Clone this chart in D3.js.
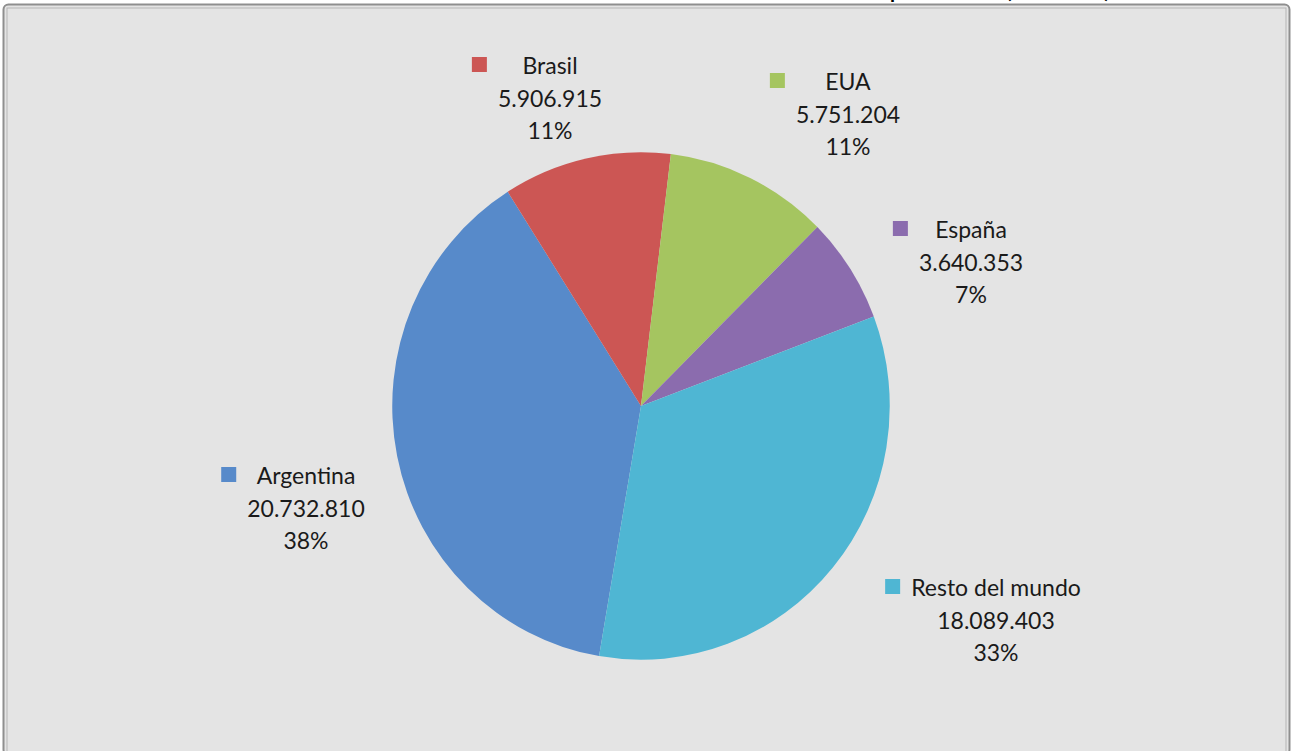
<!DOCTYPE html>
<html>
<head>
<meta charset="utf-8">
<script src="https://cdn.jsdelivr.net/npm/d3@7"></script>
<style>
  html, body { margin: 0; padding: 0; background: #ffffff; }
  svg { display: block; }
</style>
</head>
<body>
<svg id="chart" width="1293" height="751"></svg>
<script>
// ---- data ----
const categories = ["Argentina", "Brasil", "EUA", "España", "Resto del mundo"];
const values = [20732810, 5906915, 5751204, 3640353, 18089403];
const colors = ["#578ACA", "#CC5654", "#A5C560", "#8B6CAE", "#4FB6D3"];
const titleText = "Monto total recibido de cada procedencia (en dólares)";

// ---- layout (label anchors: centre x, first baseline y) ----
const labelAnchors = [[306, 484], [550, 74], [848, 90], [971, 238], [996, 596]];

const W = 1293, H = 751;
const svg = d3.select("#chart");

// frame
svg.append("rect").attr("x", 0).attr("y", 0).attr("width", W).attr("height", H).attr("fill", "#ffffff");
svg.append("rect").attr("x", 3.5).attr("y", 4.5).attr("width", 1286).attr("height", 750)
  .attr("rx", 5).attr("fill", "#E4E4E4").attr("stroke", "#8f8f8f").attr("stroke-width", 2);
svg.append("rect").attr("x", 7).attr("y", 8).attr("width", 1279).attr("height", 745)
  .attr("fill", "none").attr("stroke", "#b5b5b5").attr("stroke-width", 1);

// title (lies above the visible area; only descenders peek in, as in the reference)
const titleFont = "Lato, 'Open Sans', sans-serif";
const probe = svg.append("text").attr("font-family", titleFont)
  .attr("font-weight", "bold").attr("font-size", 24)
  .text(titleText.slice(titleText.lastIndexOf("p")));
const tailW = probe.node().getComputedTextLength();
probe.remove();
const titleSize = 24 * 220 / tailW;
svg.append("text").attr("x", 1110).attr("y", -titleSize * 0.08).attr("text-anchor", "end")
  .attr("font-family", titleFont).attr("font-weight", "bold")
  .attr("font-size", titleSize).attr("fill", "#000").text(titleText);

// pie
const cx = 641, cy = 406, r = 250;
const total = d3.sum(values);
const start = 189.7 * Math.PI / 180;
const pie = d3.pie().sort(null).value(d => d).startAngle(start).endAngle(start + 2 * Math.PI);
const arc = d3.arc().innerRadius(0).outerRadius(r);
const g = svg.append("g").attr("transform", `translate(${cx},${cy}) scale(0.995,1.015)`);
g.selectAll("path").data(pie(values)).enter().append("path")
  .attr("d", arc).attr("fill", (d, i) => colors[i]);

// labels
const loc = d3.formatLocale({ decimal: ",", thousands: ".", grouping: [3], currency: ["", ""] });
const fmt = loc.format(",d");
const font = "Lato, 'Open Sans', sans-serif";
categories.forEach((c, i) => {
  const [lx, ly] = labelAnchors[i];
  const lines = [c, fmt(values[i]), Math.round(values[i] / total * 100) + "%"];
  const lg = svg.append("g");
  let maxW = 0;
  lines.forEach((t, k) => {
    const tx = lg.append("text").attr("x", lx).attr("y", ly + k * 32.5)
      .attr("text-anchor", "middle").attr("font-family", font).attr("font-size", 23)
      .attr("fill", "#1a1a1a").text(t);
    maxW = Math.max(maxW, tx.node().getComputedTextLength());
  });
  lg.append("rect").attr("x", lx - maxW / 2 - 11 - 15).attr("y", ly - 17)
    .attr("width", 15).attr("height", 15).attr("fill", colors[i]);
});
</script>
</body>
</html>
